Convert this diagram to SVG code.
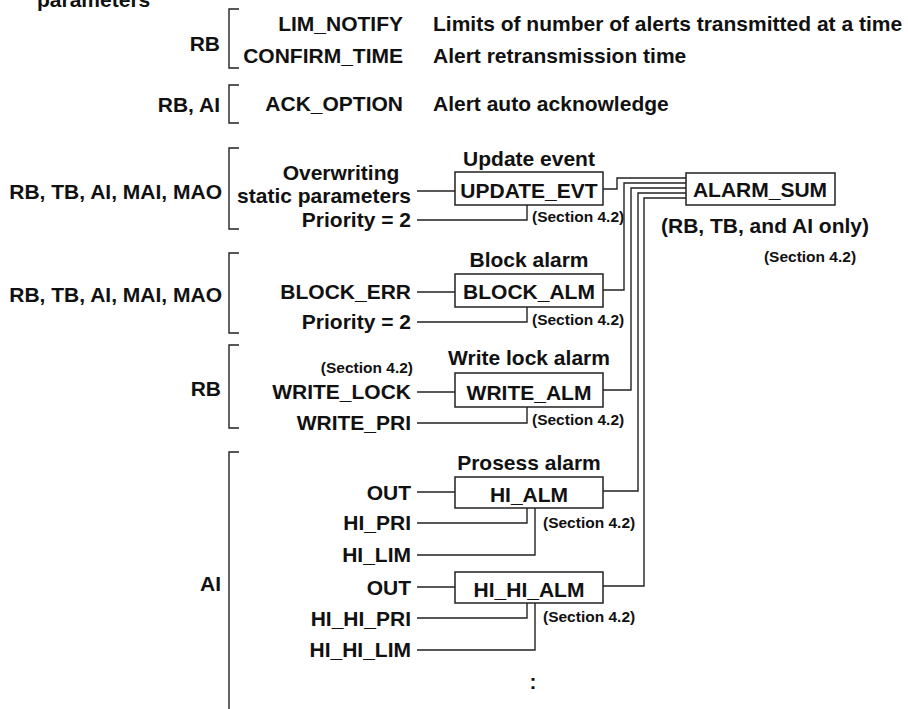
<svg xmlns="http://www.w3.org/2000/svg" width="908" height="709" viewBox="0 0 908 709">
<style>
text{font-family:"Liberation Sans",Arial,Helvetica,sans-serif;font-weight:bold;fill:#111}
.t{font-size:21px}
.s{font-size:15.5px}
.e{text-anchor:end}
.m{text-anchor:middle}
.box{fill:#fff;stroke:#222;stroke-width:1.5}
.ln{fill:none;stroke:#222;stroke-width:1.4}
</style>
<rect width="908" height="709" fill="#fff"/>

<g id="header">
<text class="t" x="37" y="7">parameters</text>
</g>

<g id="brackets">
<path class="ln" d="M239,9H229V68H239"/>
<path class="ln" d="M239,85H229V123H239"/>
<path class="ln" d="M239,148H229V229H239"/>
<path class="ln" d="M239,253H229V333H239"/>
<path class="ln" d="M239,345H229V428H239"/>
<path class="ln" d="M239,452H229V712"/>
</g>

<g id="block-labels">
<text class="t e" x="220" y="51">RB</text>
<text class="t e" x="220" y="112">RB, AI</text>
<text class="t e" x="222" y="199">RB, TB, AI, MAI, MAO</text>
<text class="t e" x="222" y="302">RB, TB, AI, MAI, MAO</text>
<text class="t e" x="221" y="396">RB</text>
<text class="t e" x="221" y="591">AI</text>
</g>

<g id="general-params">
<text class="t e" x="403" y="31">LIM_NOTIFY</text>
<text class="t" x="433" y="31">Limits of number of alerts transmitted at a time</text>
<text class="t e" x="403" y="63">CONFIRM_TIME</text>
<text class="t" x="433" y="63">Alert retransmission time</text>
<text class="t e" x="403" y="111">ACK_OPTION</text>
<text class="t" x="433" y="111">Alert auto acknowledge</text>
</g>

<g id="inputs">
<text class="t m" x="341" y="180">Overwriting</text>
<text class="t e" x="411" y="203">static parameters</text>
<text class="t e" x="411" y="227">Priority = 2</text>
<text class="t e" x="411" y="299">BLOCK_ERR</text>
<text class="t e" x="411" y="329">Priority = 2</text>
<text class="s e" x="413" y="373">(Section 4.2)</text>
<text class="t e" x="411" y="399">WRITE_LOCK</text>
<text class="t e" x="411" y="430">WRITE_PRI</text>
<text class="t e" x="411" y="500">OUT</text>
<text class="t e" x="411" y="530">HI_PRI</text>
<text class="t e" x="411" y="562">HI_LIM</text>
<text class="t e" x="411" y="595">OUT</text>
<text class="t e" x="411" y="626">HI_HI_PRI</text>
<text class="t e" x="411" y="657">HI_HI_LIM</text>
<text class="t m" x="533" y="689">:</text>
</g>

<g id="update-evt">
<text class="t m" x="529" y="166">Update event</text>
<rect class="box" x="455" y="172" width="148" height="33"/>
<text class="t m" x="529" y="198">UPDATE_EVT</text>
<text class="s" x="532" y="222">(Section 4.2)</text>
</g>

<g id="block-alm">
<text class="t m" x="529" y="267">Block alarm</text>
<rect class="box" x="455" y="274" width="148" height="33"/>
<text class="t m" x="529" y="299">BLOCK_ALM</text>
<text class="s" x="532" y="325">(Section 4.2)</text>
</g>

<g id="write-alm">
<text class="t m" x="529" y="365">Write lock alarm</text>
<rect class="box" x="455" y="373" width="148" height="34"/>
<text class="t m" x="529" y="400">WRITE_ALM</text>
<text class="s" x="532" y="425">(Section 4.2)</text>
</g>

<g id="hi-alm">
<text class="t m" x="529" y="470">Prosess alarm</text>
<rect class="box" x="455" y="477" width="148" height="31"/>
<text class="t m" x="529" y="502">HI_ALM</text>
<text class="s" x="543" y="528">(Section 4.2)</text>
</g>

<g id="hi-hi-alm">
<rect class="box" x="455" y="572" width="148" height="31"/>
<text class="t m" x="529" y="597">HI_HI_ALM</text>
<text class="s" x="543" y="622">(Section 4.2)</text>
</g>

<g id="alarm-sum">
<rect class="box" x="686" y="173" width="149" height="32"/>
<text class="t m" x="760" y="197">ALARM_SUM</text>
<text class="t m" x="765" y="233">(RB, TB, and AI only)</text>
<text class="s m" x="810" y="262">(Section 4.2)</text>
</g>

<g id="connectors">
<path class="ln" d="M417,191H455"/>
<path class="ln" d="M417,220H527V205"/>
<path class="ln" d="M417,292H455"/>
<path class="ln" d="M417,322H527V307"/>
<path class="ln" d="M417,392H455"/>
<path class="ln" d="M417,423H527V407"/>
<path class="ln" d="M417,492H455"/>
<path class="ln" d="M417,523H527V508"/>
<path class="ln" d="M417,555H535V508"/>
<path class="ln" d="M417,587H455"/>
<path class="ln" d="M417,618H527V603"/>
<path class="ln" d="M417,650H535V603"/>
<path class="ln" d="M603,189H617V178H686"/>
<path class="ln" d="M603,290H624V183H686"/>
<path class="ln" d="M603,390H631V188H686"/>
<path class="ln" d="M603,491H638V193H686"/>
<path class="ln" d="M603,586H644V198H686"/>
</g>
</svg>
